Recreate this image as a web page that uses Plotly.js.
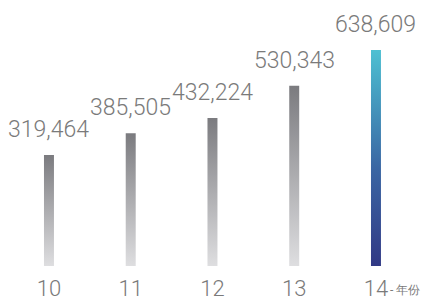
<!DOCTYPE html>
<html><head><meta charset="utf-8">
<script src="https://cdn.plot.ly/plotly-3.0.1.min.js"></script>
<style>html,body{margin:0;padding:0;background:#fff}#chart{width:426px;height:300px}</style>
</head><body><div id="chart"></div>
<script>
const categories = ['10', '11', '12', '13', '14'];
const values = [319464, 385505, 432224, 530343, 638609];
const valueLabels = ['319,464', '385,505', '432,224', '530,343', '638,609'];
const unitLabel = '- 年份';

const yMin = -18000, yMax = 790700;
const halfW = 0.061;
const grayScale = [[0, '#dedee0'], [1, '#7b7b7f']];
const blueScale = [[0, '#313985'], [0.45, '#3a66a3'], [1, '#4dc0d2']];
const FONT = 'Roboto, "Liberation Sans", sans-serif';
const TXT = '#7a7a7a';

const traces = values.map((v, i) => ({
  type: 'scatter', mode: 'lines', fill: 'toself',
  x: [i - halfW, i - halfW, i + halfW, i + halfW, i - halfW],
  y: [yMin, v, v, yMin, yMin],
  line: {width: 0, color: 'rgba(0,0,0,0)'},
  fillgradient: {type: 'vertical', colorscale: i === categories.length - 1 ? blueScale : grayScale},
  hoverinfo: 'skip', showlegend: false
}));

const annotations = values.map((v, i) => ({
  x: i, y: v, xref: 'x', yref: 'y', text: valueLabels[i], showarrow: false,
  xanchor: 'center', yanchor: 'bottom', yshift: 10,
  font: {family: FONT, size: 23, color: TXT, weight: 300}
}));
annotations.push({
  x: categories.length - 1, y: 0, xref: 'x', yref: 'paper', text: unitLabel, showarrow: false,
  xanchor: 'left', yanchor: 'top', xshift: 12, yshift: -15,
  font: {family: FONT, size: 12, color: TXT}
});

const layout = {
  width: 426, height: 300,
  margin: {l: 0, r: 0, t: 0, b: 34},
  paper_bgcolor: '#fff', plot_bgcolor: '#fff',
  xaxis: {range: [-0.599, 4.612], tickvals: categories.map((c, i) => i), ticktext: categories,
    showgrid: false, zeroline: false, showline: false, ticks: '', ticklabelstandoff: 7,
    tickfont: {family: FONT, size: 22, color: TXT, weight: 300}, fixedrange: true},
  yaxis: {range: [yMin, yMax], visible: false, fixedrange: true},
  annotations: annotations,
  showlegend: false
};

Plotly.newPlot('chart', traces, layout, {displayModeBar: false, staticPlot: true});
</script></body></html>
